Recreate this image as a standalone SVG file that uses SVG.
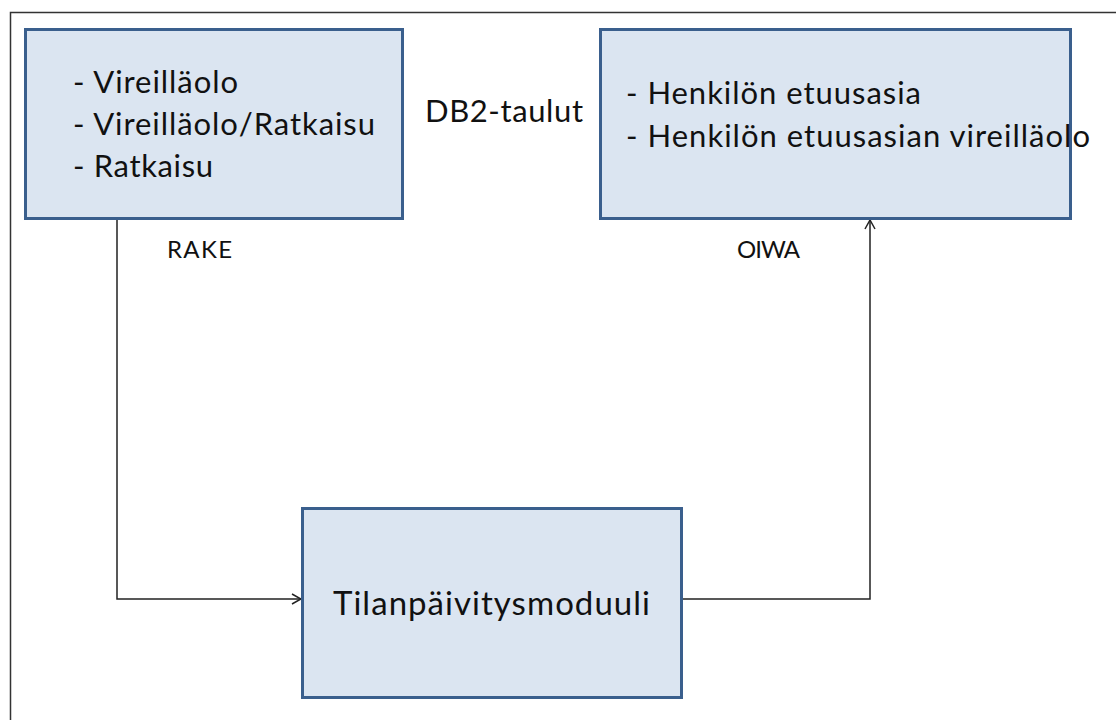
<svg xmlns="http://www.w3.org/2000/svg" width="1116" height="720" viewBox="0 0 1116 720">
  <style>
    .box { fill: #dbe5f1; stroke: #3a5f8d; stroke-width: 3; }
    .txt { font-family: Lato, "Open Sans", sans-serif; font-size: 31px; fill: #111; }
    .big { font-size: 33px; }
    .lbl { font-family: Lato, "Open Sans", sans-serif; font-size: 24px; fill: #111; }
    .conn { fill: none; stroke: #222; stroke-width: 1.5; }
  </style>
  <defs>
    <marker id="arrow" viewBox="0 0 12 12" refX="11" refY="6" markerWidth="12" markerHeight="12" markerUnits="userSpaceOnUse" orient="auto">
      <path d="M2,1 L11,6 L2,11" fill="none" stroke="#222" stroke-width="1.5"/>
    </marker>
  </defs>

  <rect width="1116" height="720" fill="#ffffff"/>
  <!-- outer frame -->
  <path d="M10.5,720 V12.5 H1116" fill="none" stroke="#333" stroke-width="1.5"/>

  <g id="connectors">
    <path class="conn" d="M117,219 V599 H301" marker-end="url(#arrow)"/>
    <path class="conn" d="M681,599 H870 V220" marker-end="url(#arrow)"/>
  </g>

  <g id="rake">
    <rect class="box" x="25.5" y="29.5" width="377" height="189"/>
    <text class="txt" x="73" y="93" textLength="165" lengthAdjust="spacing">- Vireilläolo</text>
    <text class="txt" x="73" y="135" textLength="302" lengthAdjust="spacing">- Vireilläolo/Ratkaisu</text>
    <text class="txt" x="73" y="177" textLength="140" lengthAdjust="spacing">- Ratkaisu</text>
  </g>

  <g id="oiwa">
    <rect class="box" x="600.5" y="29.5" width="470" height="189"/>
    <text class="txt" x="626" y="104" textLength="295" lengthAdjust="spacing">- Henkilön etuusasia</text>
    <text class="txt" x="626" y="147" textLength="464" lengthAdjust="spacing">- Henkilön etuusasian vireilläolo</text>
  </g>

  <g id="db2-label">
    <text class="txt" x="425" y="122" textLength="158" lengthAdjust="spacing">DB2-taulut</text>
  </g>

  <g id="system-labels">
    <text class="lbl" x="167" y="258" textLength="65" lengthAdjust="spacing">RAKE</text>
    <text class="lbl" x="737" y="258" textLength="63" lengthAdjust="spacing">OIWA</text>
  </g>

  <g id="tilanpaivitys">
    <rect class="box" x="302.5" y="508.5" width="379" height="189"/>
    <text class="txt big" x="333" y="615" textLength="317" lengthAdjust="spacing">Tilanpäivitysmoduuli</text>
  </g>
</svg>
